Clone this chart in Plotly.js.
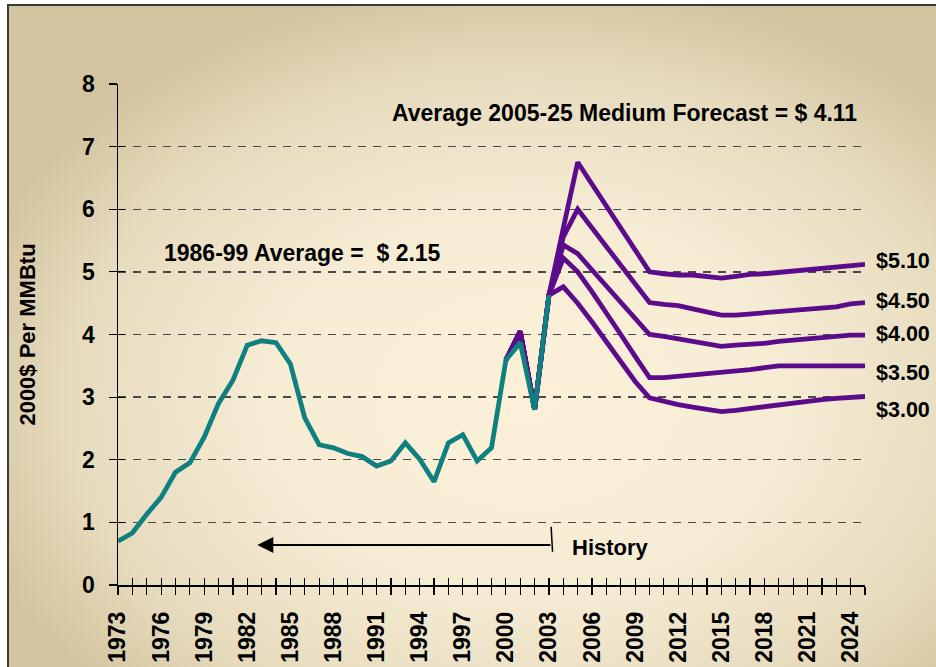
<!DOCTYPE html>
<html>
<head>
<meta charset="utf-8">
<script src="https://cdn.plot.ly/plotly-3.0.1.min.js"></script>
<style>
  html, body { margin:0; padding:0; background:#ffffff; }
  #wrap { position:relative; width:936px; height:667px; overflow:hidden; }
  #frame { position:absolute; left:7px; top:4px; width:940px; height:680px;
    border-left:2px solid #3a3a3a; border-top:2px solid #3a3a3a;
    background: radial-gradient(ellipse 62% 62% at 55% 58%, #fcf0d8 0%, #f6ecd4 45%, #e6dbbd 78%, #d3c4a0 100%); }
  #chart { position:absolute; left:0; top:0; width:936px; height:667px; }
</style>
</head>
<body>
<div id="wrap"><div id="frame"></div><div id="chart"></div></div>
<script>
// History (2000$ per MMBtu)
var histYears = [1973,1974,1975,1976,1977,1978,1979,1980,1981,1982,1983,1984,1985,1986,1987,1988,1989,1990,1991,1992,1993,1994,1995,1996,1997,1998,1999,2000,2001,2002,2003];
var histValues = [0.70,0.83,1.13,1.40,1.80,1.95,2.36,2.90,3.27,3.83,3.90,3.87,3.53,2.67,2.24,2.19,2.10,2.05,1.90,1.98,2.27,2.01,1.65,2.27,2.40,1.98,2.19,3.59,3.87,2.80,4.63];

// Forecast scenarios
var fcYears = [2000,2001,2002,2003,2004,2005,2006,2007,2008,2009,2010,2011,2012,2013,2014,2015,2016,2017,2018,2019,2020,2021,2022,2023,2024,2025];
var fc510 = [3.59,4.05,2.80,4.63,5.70,6.75,6.40,6.05,5.68,5.33,5.00,4.97,4.95,4.95,4.93,4.90,4.93,4.96,4.97,4.99,5.02,5.04,5.05,5.07,5.09,5.12];
var fc450 = [3.59,4.05,2.80,4.63,5.56,6.00,5.70,5.40,5.10,4.80,4.51,4.48,4.46,4.41,4.36,4.31,4.31,4.33,4.35,4.36,4.38,4.41,4.42,4.44,4.49,4.51];
var fc400 = [3.59,4.05,2.80,4.63,5.43,5.29,5.03,4.77,4.50,4.25,4.00,3.97,3.93,3.90,3.85,3.81,3.83,3.84,3.86,3.89,3.91,3.93,3.94,3.97,3.99,3.99];
var fc350 = [3.59,4.05,2.80,4.63,5.22,5.00,4.68,4.35,4.00,3.65,3.31,3.31,3.33,3.35,3.38,3.39,3.41,3.44,3.47,3.50,3.50,3.50,3.50,3.50,3.50,3.50];
var fc300 = [3.59,4.05,2.80,4.63,4.76,4.50,4.20,3.88,3.55,3.25,2.99,2.93,2.88,2.84,2.80,2.77,2.79,2.82,2.85,2.88,2.91,2.94,2.96,2.98,2.99,3.01];
var fcLabels = ["$5.10","$4.50","$4.00","$3.50","$3.00"];
var fcLabelY = [5.17,4.54,4.01,3.39,2.80];

var PURPLE = "#5c0b8a", TEAL = "#0f8080";
var FONT = "Liberation Sans, Arial, sans-serif";
function bf(size){ return {family:FONT, size:size, color:"#000", weight:"bold"}; }

var traces = [];
[fc510, fc450, fc400, fc350, fc300].forEach(function(v){
  traces.push({x: fcYears, y: v, type:"scatter", mode:"lines",
    line:{color:PURPLE, width:4.8}, hoverinfo:"skip", showlegend:false});
});
traces.push({x: histYears, y: histValues, type:"scatter", mode:"lines",
  line:{color:TEAL, width:4.8}, hoverinfo:"skip", showlegend:false});
// carrier trace for the overlay axes (crossing ticks)
traces.push({x:[1973], y:[-5], xaxis:"x2", yaxis:"y2", type:"scatter", mode:"lines",
  hoverinfo:"skip", showlegend:false});

var annotations = [
  {x:1991.9, y:7.54, xref:"x", yref:"y", xanchor:"left", yanchor:"middle", showarrow:false,
   text:"Average 2005-25 Medium Forecast = $ 4.11", font:bf(23)},
  {x:1976.05, y:5.30, xref:"x", yref:"y", xanchor:"left", yanchor:"middle", showarrow:false,
   text:"1986-99 Average =  $ 2.15", font:bf(23)},
  {x:2004.45, y:0.60, xref:"x", yref:"y", xanchor:"left", yanchor:"middle", showarrow:false,
   text:"History", font:bf(22)},
  {x:1982.7, y:0.64, ax:2003.2, ay:0.64, axref:"x", ayref:"y", xref:"x", yref:"y",
   showarrow:true, arrowhead:2, arrowsize:1.6, arrowwidth:2, arrowcolor:"#000", text:""}
];
fcLabels.forEach(function(t,i){
  annotations.push({x:2025, y:fcLabelY[i], xref:"x", yref:"y", xanchor:"left", yanchor:"middle",
    xshift:9, showarrow:false, text:t, font:bf(21.5)});
});

var layout = {
  width:936, height:667,
  margin:{l:118, r:71, t:84, b:82},
  paper_bgcolor:"rgba(0,0,0,0)", plot_bgcolor:"rgba(0,0,0,0)",
  font:{family:FONT, color:"#000"},
  showlegend:false,
  xaxis:{range:[1973,2025], tick0:1973, dtick:3, ticks:"outside", ticklen:8, tickwidth:1.2, tickcolor:"#000",
    minor:{tick0:1973, dtick:1, ticks:"outside", ticklen:8, tickwidth:1.2, tickcolor:"#000", showgrid:false},
    tickangle:-90, ticklabelstandoff:8, tickfont:bf(23),
    showgrid:false, zeroline:false, showline:true, linecolor:"#000", linewidth:1.5, fixedrange:true},
  yaxis:{range:[0,8], dtick:1, ticks:"outside", ticklen:8, tickwidth:1.2, tickcolor:"#000",
    ticklabelstandoff:9, tickfont:bf(23),
    showgrid:true, gridcolor:"#4a4a4a", gridwidth:1.3, griddash:"8px,7px",
    zeroline:false, showline:true, linecolor:"#000", linewidth:1.5, fixedrange:true,
    title:{text:"2000$ Per MMBtu", standoff:40, font:bf(22)}},
  xaxis2:{overlaying:"x", anchor:"y2", range:[1973,2025], tick0:1973, dtick:1, ticks:"inside", ticklen:7,
    tickwidth:1.2, tickcolor:"#000", showticklabels:false, showgrid:false, zeroline:false, showline:false},
  yaxis2:{overlaying:"y", anchor:"x2", range:[0,8], dtick:1, ticks:"inside", ticklen:7,
    tickwidth:1.2, tickcolor:"#000", showticklabels:false, showgrid:false, zeroline:false, showline:false},
  shapes:[
    {type:"line", xref:"x", yref:"y", x0:2003.15, y0:0.93, x1:2003.25, y1:0.53,
     line:{color:"#000", width:1.5}}
  ],
  annotations:annotations
};

Plotly.newPlot("chart", traces, layout, {displayModeBar:false, staticPlot:true});
</script>
</body>
</html>
